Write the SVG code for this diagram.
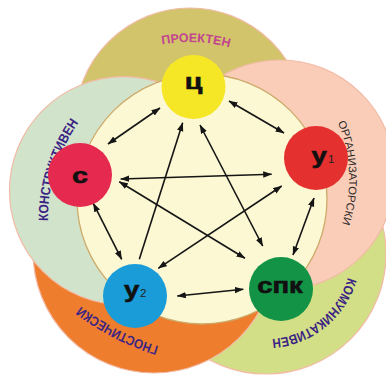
<svg xmlns="http://www.w3.org/2000/svg" width="386" height="380" viewBox="0 0 386 380">
<style>
.petal{stroke:#F2BBA6;stroke-width:1.2}
.lbl{font-family:"Liberation Sans",Arial,sans-serif;font-weight:bold;font-size:22px;fill:#111;stroke:#111;stroke-width:0.6;text-anchor:middle}
.idx{font-family:"Liberation Sans",Arial,sans-serif;font-size:11.5px;fill:#222}
.arc{font-family:"Liberation Sans",Arial,sans-serif;font-weight:bold;font-size:13.5px;fill:#3C2484}
.arr{stroke:#151515;stroke-width:1.6;fill:none;marker-end:url(#ah)}
.dbl{marker-start:url(#ah)}
</style>
<defs>
<marker id="ah" markerUnits="userSpaceOnUse" markerWidth="9" markerHeight="7" refX="8.5" refY="3.2" orient="auto-start-reverse">
<path d="M0,0 L9,3.2 L0,6.4 z" fill="#151515"/>
</marker>
<path id="tp1" d="M99.5,72.9 A148,148 0 0 1 289.6,80.5"/>
<path id="tp2" d="M92.3,332.3 A167,167 0 0 1 178.3,56.1"/>
<path id="tp3" d="M269.6,47.8 A148,148 0 0 1 280.3,304"/>
<path id="tp4" d="M346.4,226.3 A85,85 0 0 1 222.2,326.9"/>
<path id="tp5" d="M249.1,357.7 A259,259 0 0 1 18.5,239.7"/>
</defs>
<g id="petals">
<circle class="petal" cx="190" cy="123" r="115" fill="#D2C46B"/>
<circle class="petal" cx="266" cy="254" r="120" fill="#D3DF86"/>
<circle class="petal" cx="154" cy="252" r="121" fill="#EE7E2E"/>
<circle class="petal" cx="123.5" cy="190.7" r="114" fill="#D1E4CB"/>
<circle class="petal" cx="280" cy="175" r="115" fill="#F9CDB8"/>
</g>
<g id="petal-labels">
<text class="arc" style="fill:#C2458F;font-size:12.5px"><textPath href="#tp1" startOffset="50%" text-anchor="middle" textLength="68" lengthAdjust="spacingAndGlyphs">ПРОЕКТЕН</textPath></text>
<text class="arc"><textPath href="#tp2" startOffset="50%" text-anchor="middle" textLength="105" lengthAdjust="spacingAndGlyphs">КОНСТРУКТИВЕН</textPath></text>
<text class="arc" style="font-weight:normal;font-size:11px;fill:#2E2A2A"><textPath href="#tp3" startOffset="50%" text-anchor="middle" textLength="104" lengthAdjust="spacingAndGlyphs">ОРГАНИЗАТОРСКИ</textPath></text>
<text class="arc"><textPath href="#tp4" startOffset="50%" text-anchor="middle" textLength="104" lengthAdjust="spacingAndGlyphs">КОМУНИКАТИВЕН</textPath></text>
<text class="arc"><textPath href="#tp5" startOffset="50%" text-anchor="middle" textLength="88" lengthAdjust="spacingAndGlyphs">ГНОСТИЧЕСКИ</textPath></text>
</g>
<circle id="core" cx="202" cy="199" r="125" fill="#FCF8D4" stroke="#CDAA6A" stroke-width="1.3"/>
<g id="connectors">
<line class="arr dbl" x1="160" y1="108" x2="108" y2="144"/>
<line class="arr dbl" x1="229" y1="101" x2="284" y2="133"/>
<line class="arr dbl" x1="120.7" y1="179" x2="271.7" y2="174.3"/>
<line class="arr dbl" x1="119.3" y1="181.7" x2="245" y2="258.3"/>
<line class="arr dbl" x1="200" y1="125" x2="262.7" y2="246"/>
<line class="arr" x1="139.3" y1="259.3" x2="182.7" y2="122.7"/>
<line class="arr dbl" x1="158.3" y1="268.3" x2="281.7" y2="186"/>
<line class="arr dbl" x1="93.3" y1="203.3" x2="121.7" y2="259.3"/>
<line class="arr dbl" x1="314" y1="198" x2="293" y2="255"/>
<line class="arr dbl" x1="177.3" y1="296" x2="243.3" y2="289.3"/>
</g>
<g id="node-c">
<circle cx="193.5" cy="87" r="32" fill="#F6E726"/>
<text class="lbl" transform="translate(193.5,89.3) scale(1.3,1)">ц</text>
</g>
<g id="node-s">
<circle cx="80" cy="175" r="32" fill="#E5294F"/>
<text class="lbl" transform="translate(80,182.7) scale(1.3,1)">с</text>
</g>
<g id="node-u1">
<circle cx="316" cy="158" r="32" fill="#E4302F"/>
<text class="lbl" transform="translate(319.2,163.3) scale(1.25,1)">у</text>
<text class="idx" x="328" y="163.3">1</text>
</g>
<g id="node-u2">
<circle cx="135" cy="296" r="32" fill="#1A9CD8"/>
<text class="lbl" transform="translate(131.7,296.5) scale(1.25,1)">у</text>
<text class="idx" x="140" y="296.7">2</text>
</g>
<g id="node-spk">
<circle cx="281" cy="289" r="32" fill="#139346"/>
<text class="lbl" transform="translate(280,293.3) scale(1.25,1)">спк</text>
</g>
</svg>
